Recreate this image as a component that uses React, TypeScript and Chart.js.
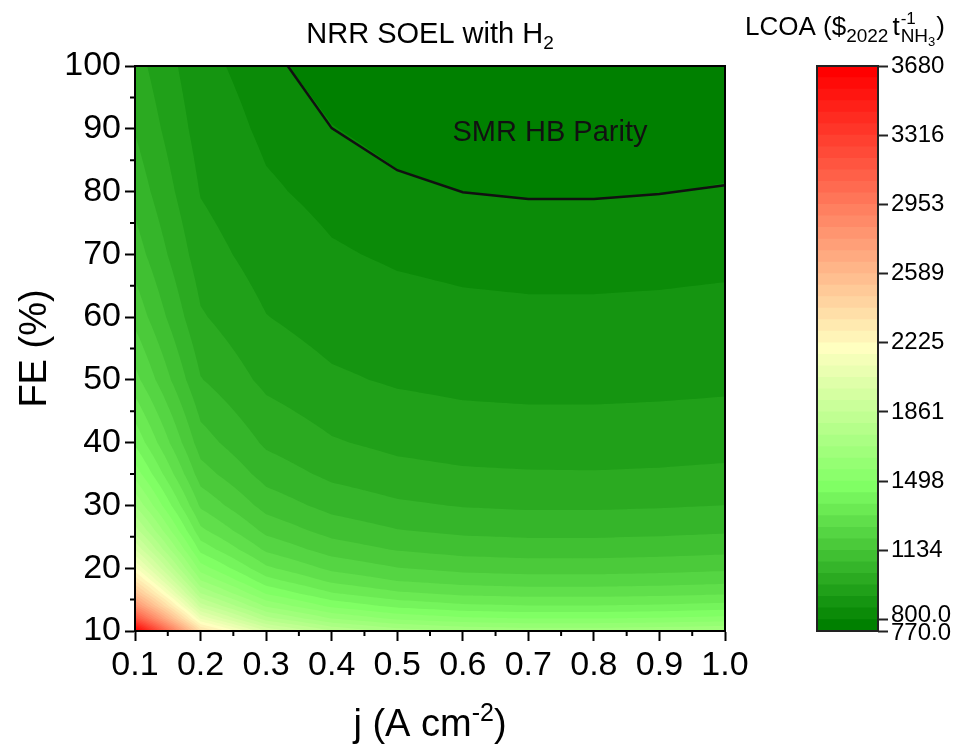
import React, { useEffect, useRef } from "react";
import { Chart, registerables } from "chart.js";

Chart.register(...registerables);

const FONT = "'Liberation Sans', Arial, Helvetica, sans-serif";

// ---------------- data ----------------
const jValues = [0.1, 0.2, 0.3, 0.4, 0.5, 0.6, 0.7, 0.8, 0.9, 1.0];
const feValues = [10, 12, 14, 16, 18, 20, 23, 26, 30, 35, 40, 50, 60, 70, 80, 90, 100];
// LCOA ($2022 / t NH3), one row per FE value, columns follow jValues
const lcoaGrid = [
  [3680, 2381, 1981, 1805, 1718, 1677, 1660, 1660, 1671, 1688],
  [3179, 2097, 1763, 1617, 1544, 1510, 1496, 1496, 1505, 1519],
  [2821, 1894, 1608, 1482, 1420, 1390, 1379, 1379, 1386, 1399],
  [2553, 1741, 1491, 1381, 1327, 1301, 1291, 1291, 1297, 1308],
  [2344, 1623, 1401, 1303, 1254, 1231, 1222, 1222, 1228, 1238],
  [2178, 1528, 1328, 1240, 1197, 1176, 1168, 1168, 1173, 1182],
  [1982, 1417, 1243, 1166, 1129, 1110, 1103, 1103, 1108, 1116],
  [1831, 1331, 1177, 1110, 1076, 1060, 1054, 1054, 1058, 1065],
  [1677, 1244, 1110, 1052, 1023, 1009, 1003, 1003, 1007, 1013],
  [1534, 1162, 1048, 998, 973, 961, 957, 956, 959, 965],
  [1426, 1102, 1002, 958, 936, 925, 921, 921, 924, 928],
  [1276, 1016, 936, 901, 884, 875, 872, 872, 874, 878],
  [1176, 959, 893, 863, 849, 842, 839, 839, 841, 844],
  [1104, 919, 862, 836, 824, 818, 816, 816, 817, 820],
  [1051, 888, 838, 816, 805, 800, 798, 798, 799, 802],
  [1009, 865, 820, 801, 791, 786, 784, 784, 786, 788],
  [976, 846, 806, 788, 779, 775, 774, 774, 775, 776],
];
const contourLevels = [
  770, 800, 830.625, 891.25, 951.875, 1012.5, 1073.125, 1133.75, 1194.375, 1255,
  1315.625, 1376.25, 1436.875, 1497.5, 1558.125, 1618.75, 1679.375, 1740, 1800.625,
  1861.25, 1921.875, 1982.5, 2043.125, 2103.75, 2164.375, 2225, 2285.625, 2346.25,
  2406.875, 2467.5, 2528.125, 2588.75, 2649.375, 2710, 2770.625, 2831.25, 2891.875,
  2952.5, 3013.125, 3073.75, 3134.375, 3195, 3255.625, 3316.25, 3376.875, 3437.5,
  3498.125, 3558.75, 3619.375, 3680,
];
const parityJ = [0.333, 0.4, 0.5, 0.6, 0.7, 0.8, 0.9, 1.0];
const parityFE = [100, 90.1, 83.4, 79.9, 78.8, 78.8, 79.6, 81.0];
const xTickValues = [0.1, 0.2, 0.3, 0.4, 0.5, 0.6, 0.7, 0.8, 0.9, 1.0];
const yTickValues = [10, 20, 30, 40, 50, 60, 70, 80, 90, 100];
const xMinorTickValues = [0.15, 0.25, 0.35, 0.45, 0.55, 0.65, 0.75, 0.85, 0.95];
const yMinorTickValues = [15, 25, 35, 45, 55, 65, 75, 85, 95];
const colorbarTickLabels = ["770.0", "800.0", "1134", "1498", "1861", "2225", "2589", "2953", "3316", "3680"];
const titleMain = "NRR SOEL with H";
const titleSub = "2";
const parityLabel = "SMR HB Parity";

// ---------------- style ----------------
const PALETTE_STOPS = [0, 0.25, 0.5, 1];
const PALETTE_COLORS = [
  [0, 128, 0],
  [128, 255, 100],
  [255, 255, 192],
  [255, 0, 0],
];
const nBands = contourLevels.length - 1;
const SUBDIV = 6;

function bandColor(k: number): string {
  const t = nBands > 1 ? k / (nBands - 1) : 0;
  let i = 0;
  while (i < PALETTE_STOPS.length - 2 && t > PALETTE_STOPS[i + 1]) i++;
  const a = PALETTE_STOPS[i];
  const b = PALETTE_STOPS[i + 1];
  const f = Math.max(0, Math.min(1, (t - a) / (b - a)));
  const c0 = PALETTE_COLORS[i];
  const c1 = PALETTE_COLORS[i + 1];
  const c = c0.map((v, idx) => Math.round(v + (c1[idx] - v) * f));
  return `rgb(${c[0]},${c[1]},${c[2]})`;
}

type P = { x: number; y: number; v: number };
type Tri = { p: P[]; min: number; max: number };

function clipGE(poly: P[], lo: number): P[] {
  const out: P[] = [];
  const n = poly.length;
  for (let i = 0; i < n; i++) {
    const a = poly[i];
    const b = poly[(i + 1) % n];
    const ain = a.v >= lo;
    const bin = b.v >= lo;
    if (ain) out.push(a);
    if (ain !== bin) {
      const t = (lo - a.v) / (b.v - a.v);
      out.push({ x: a.x + (b.x - a.x) * t, y: a.y + (b.y - a.y) * t, v: lo });
    }
  }
  return out;
}

function mkTri(a: P, b: P, c: P): Tri {
  return { p: [a, b, c], min: Math.min(a.v, b.v, c.v), max: Math.max(a.v, b.v, c.v) };
}

const contourPlugin = {
  id: "contourFill",
  beforeDatasetsDraw(chart: any) {
    const { ctx, chartArea } = chart;
    const xs = chart.scales.x;
    const ys = chart.scales.y;
    const px = jValues.map((v) => xs.getPixelForValue(v));
    const py = feValues.map((v) => ys.getPixelForValue(v));
    const tris: Tri[] = [];
    for (let r = 0; r < feValues.length - 1; r++) {
      for (let c = 0; c < jValues.length - 1; c++) {
        const v00 = lcoaGrid[r][c];
        const v10 = lcoaGrid[r][c + 1];
        const v01 = lcoaGrid[r + 1][c];
        const v11 = lcoaGrid[r + 1][c + 1];
        const pts: P[][] = [];
        for (let a = 0; a <= SUBDIV; a++) {
          const row: P[] = [];
          const w = a / SUBDIV;
          for (let b = 0; b <= SUBDIV; b++) {
            const u = b / SUBDIV;
            const v = (1 - u) * (1 - w) * v00 + u * (1 - w) * v10 + (1 - u) * w * v01 + u * w * v11;
            row.push({ x: px[c] + (px[c + 1] - px[c]) * u, y: py[r] + (py[r + 1] - py[r]) * w, v });
          }
          pts.push(row);
        }
        for (let a = 0; a < SUBDIV; a++) {
          for (let b = 0; b < SUBDIV; b++) {
            const p00 = pts[a][b];
            const p10 = pts[a][b + 1];
            const p01 = pts[a + 1][b];
            const p11 = pts[a + 1][b + 1];
            tris.push(mkTri(p00, p10, p11), mkTri(p00, p11, p01));
          }
        }
      }
    }
    ctx.save();
    ctx.beginPath();
    ctx.rect(chartArea.left, chartArea.top, chartArea.right - chartArea.left, chartArea.bottom - chartArea.top);
    ctx.clip();
    for (let k = 0; k < nBands; k++) {
      const lo = contourLevels[k];
      ctx.beginPath();
      for (const tri of tris) {
        if (k > 0 && tri.max < lo) continue;
        const poly = k === 0 || tri.min >= lo ? tri.p : clipGE(tri.p, lo);
        if (poly.length < 3) continue;
        ctx.moveTo(poly[0].x, poly[0].y);
        for (let i = 1; i < poly.length; i++) ctx.lineTo(poly[i].x, poly[i].y);
        ctx.closePath();
      }
      ctx.fillStyle = bandColor(k);
      ctx.fill("nonzero");
    }
    ctx.restore();
  },
};

type Run = { text: string; size: number; dy: number };
function drawRuns(ctx: CanvasRenderingContext2D, runs: Run[], x: number, y: number, align: "left" | "center") {
  const widths = runs.map((r) => {
    ctx.font = `${r.size}px ${FONT}`;
    return ctx.measureText(r.text).width;
  });
  const total = widths.reduce((s, w) => s + w, 0);
  let cx = align === "center" ? x - total / 2 : x;
  ctx.textAlign = "left";
  ctx.textBaseline = "alphabetic";
  runs.forEach((r, i) => {
    ctx.font = `${r.size}px ${FONT}`;
    ctx.fillText(r.text, cx, y + r.dy);
    cx += widths[i];
  });
}

const decorPlugin = {
  id: "decor",
  afterDatasetsDraw(chart: any) {
    const { ctx, chartArea } = chart;
    ctx.save();
    ctx.strokeStyle = "#000";
    ctx.lineWidth = 2;
    ctx.strokeRect(chartArea.left, chartArea.top, chartArea.right - chartArea.left, chartArea.bottom - chartArea.top);
    ctx.fillStyle = "#111";
    drawRuns(ctx, [{ text: parityLabel, size: 29, dy: 0 }], chart.scales.x.getPixelForValue(0.733), chart.scales.y.getPixelForValue(88.1), "center");
    ctx.restore();
  },
  afterDraw(chart: any) {
    const { ctx, chartArea } = chart;
    const xs = chart.scales.x;
    const ys = chart.scales.y;
    ctx.save();
    ctx.strokeStyle = "#000";
    ctx.lineWidth = 2;
    ctx.beginPath();
    for (const v of xMinorTickValues) {
      const x = xs.getPixelForValue(v);
      ctx.moveTo(x, chartArea.bottom);
      ctx.lineTo(x, chartArea.bottom + 5);
    }
    for (const v of yMinorTickValues) {
      const y = ys.getPixelForValue(v);
      ctx.moveTo(chartArea.left - 5, y);
      ctx.lineTo(chartArea.left, y);
    }
    ctx.stroke();
    ctx.fillStyle = "#000";
    const cx = (chartArea.left + chartArea.right) / 2;
    drawRuns(ctx, [
      { text: titleMain, size: 29, dy: 0 },
      { text: titleSub, size: 19, dy: 6 },
    ], cx, 43, "center");
    drawRuns(ctx, [
      { text: "j (A cm", size: 38, dy: 0 },
      { text: "-2", size: 25, dy: -15 },
      { text: ")", size: 38, dy: 0 },
    ], cx, 736, "center");
    ctx.restore();
  },
};

const colorbarTickIndex = colorbarTickLabels.map((lbl) =>
  contourLevels.findIndex((l) => Math.abs(l - parseFloat(lbl)) < 0.6)
);
// the two lowest labels sit close together and are nudged apart, as in the original
const colorbarNudged: Record<string, number> = { "770.0": 2, "800.0": -4 };

const colorbarPlugin = {
  id: "colorbarDecor",
  afterDatasetsDraw(chart: any) {
    const { ctx, chartArea } = chart;
    ctx.save();
    ctx.strokeStyle = "#222";
    ctx.lineWidth = 2;
    ctx.strokeRect(chartArea.left, chartArea.top, chartArea.right - chartArea.left, chartArea.bottom - chartArea.top);
    ctx.restore();
  },
  afterDraw(chart: any) {
    const { ctx, chartArea } = chart;
    const ys = chart.scales.y;
    ctx.save();
    ctx.fillStyle = "#000";
    // nudged tick labels
    ctx.font = `24px ${FONT}`;
    ctx.textAlign = "left";
    ctx.textBaseline = "middle";
    colorbarTickLabels.forEach((lbl, i) => {
      if (!(lbl in colorbarNudged)) return;
      const y = ys.getPixelForValue(colorbarTickIndex[i]) + colorbarNudged[lbl];
      ctx.fillText(lbl, chartArea.right + 13, y);
    });
    // title
    ctx.textBaseline = "alphabetic";
    const base = 35;
    let x = 745;
    const put = (t: string, size: number, dy: number, advance = true) => {
      ctx.font = `${size}px ${FONT}`;
      ctx.fillText(t, x, base + dy);
      const w = ctx.measureText(t).width;
      if (advance) x += w;
      return w;
    };
    put("LCOA ($", 26, 0);
    put("2022", 19, 7);
    x += 4;
    put("t", 26, 0);
    x += 1;
    const xs0 = x;
    const w1 = put("-1", 17, -11, false);
    const w2 = put("NH", 19, 7, false);
    x = xs0 + w2;
    put("3", 13, 11);
    x = Math.max(x, xs0 + w1) + 1;
    put(")", 26, 0);
    ctx.restore();
  },
};

export default function App() {
  const mainRef = useRef<HTMLCanvasElement>(null);
  const barRef = useRef<HTMLCanvasElement>(null);

  useEffect(() => {
    const tickFont = { family: FONT, size: 34 };
    const main = new Chart(mainRef.current as HTMLCanvasElement, {
      type: "scatter",
      data: {
        datasets: [
          {
            data: parityJ.map((j, i) => ({ x: j, y: parityFE[i] })),
            showLine: true,
            borderColor: "#111",
            borderWidth: 2.5,
            pointRadius: 0,
            fill: false,
          } as any,
        ],
      },
      options: {
        animation: false,
        responsive: false,
        devicePixelRatio: 1,
        layout: { padding: { left: 0, right: 232, top: 66, bottom: 0 } },
        plugins: { legend: { display: false }, tooltip: { enabled: false } },
        scales: {
          x: {
            type: "linear",
            min: 0.1,
            max: 1.0,
            afterBuildTicks: (s: any) => {
              s.ticks = xTickValues.map((v) => ({ value: v }));
            },
            afterFit: (s: any) => {
              s.height = 118;
            },
            ticks: {
              callback: (v: any) => Number(v).toFixed(1),
              font: tickFont,
              color: "#000",
              padding: 4,
              maxRotation: 0,
              autoSkip: false,
            },
            grid: { drawOnChartArea: false, drawTicks: true, tickLength: 10, tickWidth: 2, tickColor: "#000" },
            border: { display: true, color: "#000", width: 2 },
          },
          y: {
            type: "linear",
            min: 10,
            max: 100,
            afterBuildTicks: (s: any) => {
              s.ticks = yTickValues.map((v) => ({ value: v }));
            },
            afterFit: (s: any) => {
              s.width = 135;
            },
            ticks: {
              callback: (v: any) => String(v),
              font: tickFont,
              color: "#000",
              padding: 4,
              autoSkip: false,
            },
            grid: { drawOnChartArea: false, drawTicks: true, tickLength: 10, tickWidth: 2, tickColor: "#000" },
            border: { display: true, color: "#000", width: 2 },
            title: {
              display: true,
              text: "FE (%)",
              font: { family: FONT, size: 38 },
              color: "#000",
              padding: { top: 13, bottom: 0 },
            },
          },
        },
      } as any,
      plugins: [contourPlugin, decorPlugin],
    });

    const bar = new Chart(barRef.current as HTMLCanvasElement, {
      type: "bar",
      data: {
        labels: ["LCOA"],
        datasets: contourLevels.slice(1).map((_, k) => ({
          data: [[0, k + 1]],
          backgroundColor: bandColor(k),
          borderWidth: 0,
          barPercentage: 1,
          categoryPercentage: 1,
          grouped: false,
        })) as any,
      },
      options: {
        animation: false,
        responsive: false,
        devicePixelRatio: 1,
        layout: { padding: { left: 817, right: 0, top: 66, bottom: 118 } },
        plugins: { legend: { display: false }, tooltip: { enabled: false } },
        scales: {
          x: { display: false },
          y: {
            type: "linear",
            position: "right",
            min: 0,
            max: nBands,
            afterBuildTicks: (s: any) => {
              s.ticks = colorbarTickIndex.map((v) => ({ value: v }));
            },
            afterFit: (s: any) => {
              s.width = 79;
            },
            ticks: {
              callback: (v: any) => {
                const i = colorbarTickIndex.indexOf(Number(v));
                if (i < 0) return "";
                const lbl = colorbarTickLabels[i];
                return lbl in colorbarNudged ? "" : lbl;
              },
              font: { family: FONT, size: 24 },
              color: "#000",
              padding: 3,
              autoSkip: false,
            },
            grid: { drawOnChartArea: false, drawTicks: true, tickLength: 10, tickWidth: 2, tickColor: "#222" },
            border: { display: false },
          },
        },
      } as any,
      plugins: [colorbarPlugin],
    });

    return () => {
      main.destroy();
      bar.destroy();
    };
  }, []);

  return (
    <div style={{ position: "fixed", left: 0, top: 0, width: 957, height: 749, background: "#fff" }}>
      <canvas ref={mainRef} width={957} height={749} style={{ position: "absolute", left: 0, top: 0 }} />
      <canvas ref={barRef} width={957} height={749} style={{ position: "absolute", left: 0, top: 0 }} />
    </div>
  );
}
